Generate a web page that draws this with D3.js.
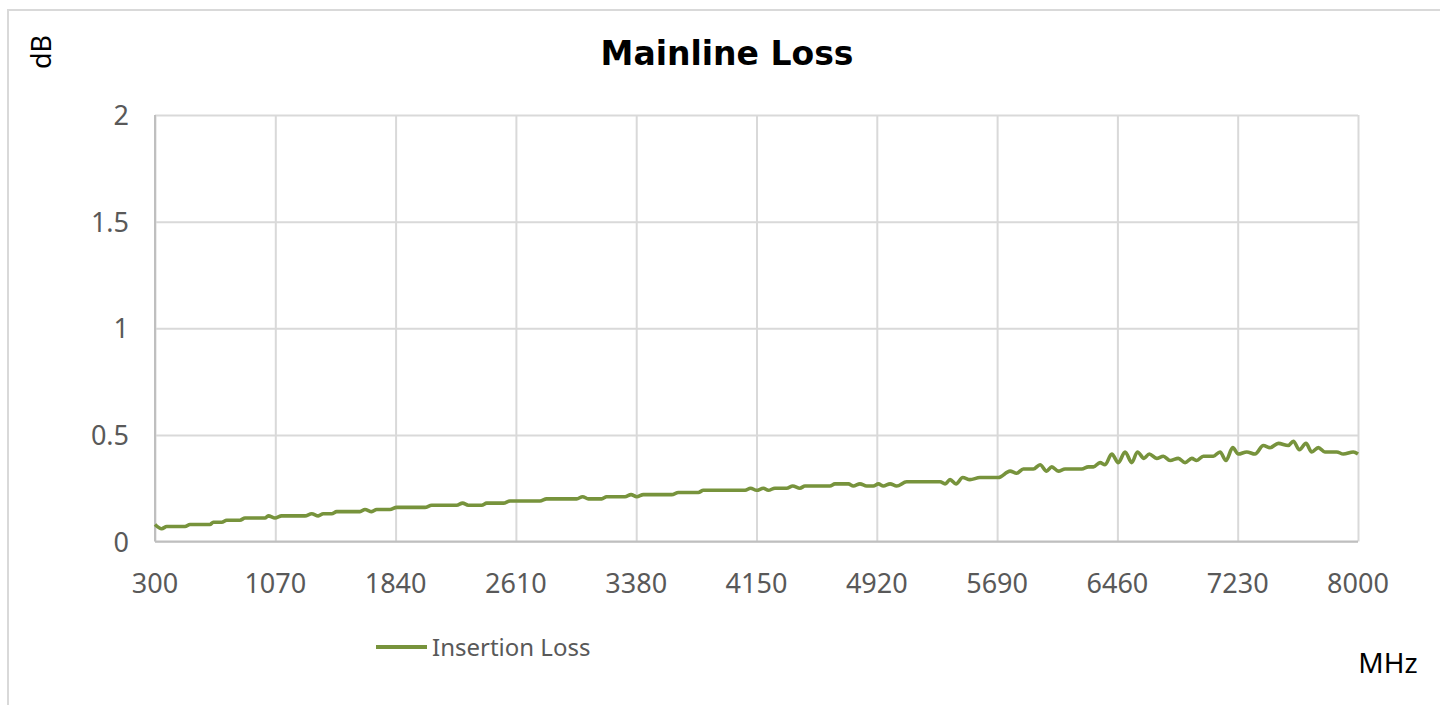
<!DOCTYPE html>
<html>
<head>
<meta charset="utf-8">
<script src="https://cdn.jsdelivr.net/npm/d3@7"></script>
<style>
  body { margin: 0; background: #fff; }
  svg { display: block; }
</style>
</head>
<body>
<svg width="1440" height="705"></svg>
<script>
// vertices of the trace (MHz, dB)
const freqs = [300, 343, 375, 492, 524, 652, 673, 727, 759, 844, 876, 1004, 1025, 1068, 1111, 1260,
  1303, 1345, 1377, 1431, 1463, 1612, 1644, 1687, 1719, 1804, 1847, 2028, 2071, 2231, 2269, 2305,
  2391, 2423, 2530, 2572, 2764, 2807, 2999, 3037, 3074, 3159, 3191, 3308, 3347, 3383, 3426, 3607,
  3650, 3778, 3810, 4077, 4112, 4151, 4194, 4226, 4268, 4343, 4382, 4428, 4460, 4620, 4652, 4738,
  4770, 4812, 4855, 4898, 4930, 4962, 5005, 5047, 5111, 5325, 5357, 5389, 5427, 5470, 5516, 5580,
  5698, 5773, 5815, 5858, 5922, 5965, 6007, 6040, 6082, 6125, 6232, 6274, 6306, 6349, 6381, 6424,
  6466, 6509, 6552, 6588, 6630, 6664, 6711, 6754, 6797, 6850, 6893, 6936, 6968, 7010, 7074, 7117,
  7155, 7198, 7234, 7288, 7341, 7394, 7437, 7490, 7554, 7586, 7625, 7667, 7704, 7746, 7788, 7864,
  7906, 7970, 8000];
const loss = [0.08, 0.06, 0.07, 0.07, 0.08, 0.08, 0.09, 0.09, 0.10, 0.10, 0.11, 0.11, 0.12, 0.11, 0.12, 0.12,
  0.13, 0.12, 0.13, 0.13, 0.14, 0.14, 0.15, 0.14, 0.15, 0.15, 0.16, 0.16, 0.17, 0.17, 0.18, 0.17,
  0.17, 0.18, 0.18, 0.19, 0.19, 0.20, 0.20, 0.21, 0.20, 0.20, 0.21, 0.21, 0.22, 0.21, 0.22, 0.22,
  0.23, 0.23, 0.24, 0.24, 0.25, 0.24, 0.25, 0.24, 0.25, 0.25, 0.26, 0.25, 0.26, 0.26, 0.27, 0.27,
  0.26, 0.27, 0.26, 0.26, 0.27, 0.26, 0.27, 0.26, 0.28, 0.28, 0.27, 0.29, 0.27, 0.30, 0.29, 0.30,
  0.30, 0.33, 0.32, 0.34, 0.34, 0.36, 0.33, 0.35, 0.33, 0.34, 0.34, 0.35, 0.35, 0.37, 0.36, 0.41,
  0.37, 0.42, 0.37, 0.42, 0.39, 0.41, 0.39, 0.40, 0.38, 0.39, 0.37, 0.39, 0.38, 0.40, 0.40, 0.42,
  0.38, 0.44, 0.41, 0.42, 0.41, 0.45, 0.44, 0.46, 0.45, 0.47, 0.43, 0.46, 0.42, 0.44, 0.42, 0.42,
  0.41, 0.42, 0.41];

const xTicks = [300, 1070, 1840, 2610, 3380, 4150, 4920, 5690, 6460, 7230, 8000];
const yTicks = [0, 0.5, 1, 1.5, 2];

const svg = d3.select('svg');
const plotLeft = 155, plotRight = 1358, plotTop = 115, plotBottom = 541.5;

const x = d3.scaleLinear().domain([300, 8000]).range([plotLeft, plotRight]);
const y = d3.scaleLinear().domain([0, 2]).range([plotBottom, plotTop]);

const labelFont = '"Noto Sans", sans-serif';

// chart frame
svg.append('rect')
    .attr('x', 8).attr('y', 10)
    .attr('width', 1440).attr('height', 705)
    .attr('fill', 'none')
    .attr('stroke', '#d9d9d9')
    .attr('stroke-width', 2);

// gridlines
svg.append('g')
    .attr('transform', `translate(0,${plotBottom})`)
    .call(d3.axisBottom(x).tickValues(xTicks).tickSize(-(plotBottom - plotTop)).tickFormat(''))
    .call(g => g.select('.domain').remove())
    .call(g => g.selectAll('line').attr('stroke', '#d9d9d9').attr('stroke-width', 2));

svg.append('g')
    .attr('transform', `translate(${plotLeft},0)`)
    .call(d3.axisLeft(y).tickValues(yTicks).tickSize(-(plotRight - plotLeft)).tickFormat(''))
    .call(g => g.select('.domain').remove())
    .call(g => g.selectAll('line').attr('stroke', '#d9d9d9').attr('stroke-width', 2));

// axis lines
svg.append('line')
    .attr('x1', plotLeft).attr('x2', plotRight).attr('y1', plotBottom).attr('y2', plotBottom)
    .attr('stroke', '#bfbfbf').attr('stroke-width', 2);
svg.append('line')
    .attr('x1', plotLeft).attr('x2', plotLeft).attr('y1', plotTop).attr('y2', plotBottom)
    .attr('stroke', '#bfbfbf').attr('stroke-width', 2);

// tick labels
svg.append('g').selectAll('text').data(xTicks).enter().append('text')
    .attr('x', d => x(d))
    .attr('y', plotBottom + 51)
    .attr('text-anchor', 'middle')
    .attr('font-family', labelFont)
    .attr('font-size', 27)
    .attr('fill', '#595959')
    .text(d => d);

svg.append('g').selectAll('text').data(yTicks).enter().append('text')
    .attr('x', 129)
    .attr('y', d => y(d) + 10)
    .attr('text-anchor', 'end')
    .attr('font-family', labelFont)
    .attr('font-size', 27)
    .attr('fill', '#595959')
    .text(d => d);

// the trace
const line = d3.line()
    .x((d, i) => x(freqs[i]))
    .y(d => y(d))
    .curve(d3.curveMonotoneX);

svg.append('path')
    .datum(loss)
    .attr('d', line)
    .attr('fill', 'none')
    .attr('stroke', '#77933c')
    .attr('stroke-width', 3.6)
    .attr('stroke-linejoin', 'round');

// title and axis titles
svg.append('text')
    .attr('x', 727).attr('y', 65)
    .attr('text-anchor', 'middle')
    .attr('font-family', '"DejaVu Sans", sans-serif')
    .attr('font-weight', 'bold')
    .attr('font-size', 33)
    .attr('fill', '#000')
    .attr('xml:space', 'preserve')
    .text('Mainline Loss');

svg.append('text')
    .attr('transform', 'translate(51,52) rotate(-90)')
    .attr('text-anchor', 'middle')
    .attr('font-family', labelFont)
    .attr('font-size', 27)
    .attr('fill', '#000')
    .text('dB');

svg.append('text')
    .attr('x', 1388).attr('y', 673)
    .attr('text-anchor', 'middle')
    .attr('font-family', labelFont)
    .attr('font-size', 28)
    .attr('fill', '#000')
    .text('MHz');

// legend
const legend = svg.append('g').attr('transform', 'translate(376,647)');
legend.append('line')
    .attr('x1', 0).attr('x2', 51).attr('y1', 0).attr('y2', 0)
    .attr('stroke', '#77933c').attr('stroke-width', 3.8);
legend.append('text')
    .attr('x', 56).attr('y', 9)
    .attr('font-family', labelFont)
    .attr('font-size', 24)
    .attr('fill', '#595959')
    .text('Insertion Loss');
</script>
</body>
</html>
